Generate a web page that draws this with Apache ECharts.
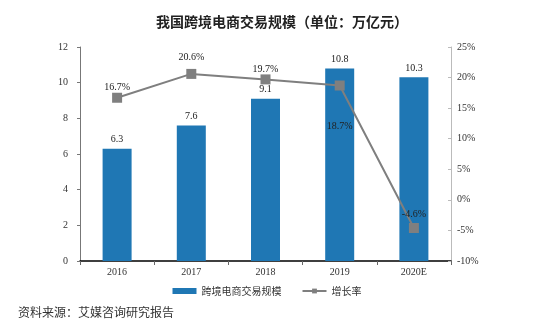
<!DOCTYPE html>
<html><head><meta charset="utf-8">
<script src="https://cdn.jsdelivr.net/npm/echarts@6/dist/echarts.min.js"></script>
<style>html,body{margin:0;padding:0;background:#fff}#c{width:534px;height:321px}</style>
</head><body><div id="c"></div>
<script>
var categories = ['2016','2017','2018','2019','2020E'];
var scaleValues = [6.3, 7.6, 9.1, 10.8, 10.3];
var growthValues = [16.7, 20.6, 19.7, 18.7, -4.6];
var leftTicks = [0,2,4,6,8,10,12];
var rightTicks = [-10,-5,0,5,10,15,20,25];

var serif = 'Liberation Serif';
var cjk = 'Noto Sans CJK SC';
var lineLabelPos = [
  {position: 'top', distance: 0},
  {position: 'top', distance: 7},
  {position: 'top', distance: 0},
  {position: 'bottom', distance: 31},
  {position: 'top', distance: 4}
];
var chart = echarts.init(document.getElementById('c'));
chart.setOption({
  animation: false,
  title: [{
    text: '我国跨境电商交易规模（单位：万亿元）',
    left: 277, top: 10, textAlign: 'center',
    textStyle: {fontFamily: cjk, fontSize: 14, fontWeight: 'bold', color: '#222'}
  }, {
    text: '资料来源：艾媒咨询研究报告',
    left: 13, top: 301,
    textStyle: {fontFamily: cjk, fontSize: 12, fontWeight: 'normal', color: '#333'}
  }],
  legend: {
    left: 'center', top: 281, itemGap: 20, itemWidth: 24, itemHeight: 6,
    textStyle: {fontFamily: cjk, fontSize: 10, color: '#333'},
    data: [{name: '跨境电商交易规模', icon: 'rect'}, {name: '增长率'}]
  },
  grid: {left: 80, right: 83, top: 47, bottom: 60},
  xAxis: {
    type: 'category', data: categories,
    axisLine: {lineStyle: {color: '#000', width: 1.5}},
    axisTick: {show: true, inside: false, length: 4, lineStyle: {color: '#666'}},
    axisLabel: {fontFamily: serif, fontSize: 10, color: '#333', margin: 6}
  },
  yAxis: [{
    type: 'value', min: 0, max: 12, interval: 2,
    axisLine: {show: true, lineStyle: {color: '#777'}},
    axisTick: {show: true, length: 3, lineStyle: {color: '#777'}},
    splitLine: {show: false},
    axisLabel: {fontFamily: serif, fontSize: 10, color: '#333', margin: 12}
  }, {
    type: 'value', min: -10, max: 25, interval: 5, position: 'right',
    axisLine: {show: true, lineStyle: {color: '#bbb'}},
    axisTick: {show: true, inside: true, length: 3, lineStyle: {color: '#bbb'}},
    splitLine: {show: false},
    axisLabel: {fontFamily: serif, fontSize: 10, color: '#333', margin: 6, formatter: '{value}%'}
  }],
  series: [{
    name: '跨境电商交易规模', type: 'bar', data: scaleValues, barWidth: 29,
    itemStyle: {color: '#1f77b4'},
    label: {show: true, position: 'top', distance: 4, fontFamily: serif, fontSize: 10, color: '#222'}
  }, {
    name: '增长率', type: 'line', yAxisIndex: 1,
    data: growthValues.map(function (v, i) {
      return {value: v, label: lineLabelPos[i]};
    }),
    symbol: 'rect', symbolSize: 10,
    lineStyle: {color: '#7f7f7f', width: 2},
    itemStyle: {color: '#7f7f7f'},
    label: {show: true, position: 'top', fontFamily: serif, fontSize: 10, color: '#222', formatter: '{c}%'}
  }]
});
</script></body></html>
